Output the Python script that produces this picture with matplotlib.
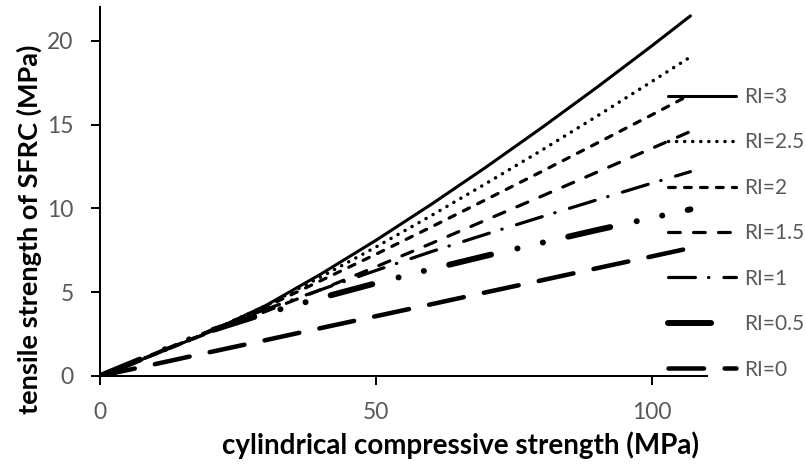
import matplotlib
matplotlib.use("Agg")
import matplotlib.pyplot as plt

plt.rcParams['font.family'] = ['Lato', 'DejaVu Sans']
plt.rcParams['lines.scale_dashes'] = False

# cylindrical compressive strength (MPa)
fc = [0, 10, 20, 30, 40, 50, 60, 70, 80, 90, 100, 107]

# tensile strength of SFRC (MPa) for each reinforcing index
ri_3 = [0, 1.30, 2.65, 4.20, 6.08, 8.10, 10.24, 12.48, 14.81, 17.22, 19.71, 21.5]
ri_25 = [0, 1.32, 2.68, 4.19, 5.91, 7.70, 9.57, 11.50, 13.47, 15.50, 17.58, 19.05]
ri_2 = [0, 1.33, 2.68, 4.12, 5.69, 7.27, 8.89, 10.54, 12.20, 13.89, 15.59, 16.8]
ri_15 = [0, 1.30, 2.62, 3.85, 5.15, 6.52, 7.91, 9.32, 10.73, 12.16, 13.59, 14.6]
ri_1 = [0, 1.36, 2.72, 3.98, 5.15, 6.30, 7.42, 8.47, 9.50, 10.51, 11.51, 12.2]
ri_05 = [0, 1.36, 2.70, 3.74, 4.66, 5.54, 6.38, 7.18, 7.95, 8.71, 9.44, 9.95]
ri_0 = [0, 0.71, 1.43, 2.14, 2.86, 3.57, 4.28, 5.00, 5.71, 6.43, 7.14, 7.64]

labels = ['RI=3', 'RI=2.5', 'RI=2', 'RI=1.5', 'RI=1', 'RI=0.5', 'RI=0']
series = [ri_3, ri_25, ri_2, ri_15, ri_1, ri_05, ri_0]

x_ticks = [0, 50, 100]
y_ticks = [0, 5, 10, 15, 20]

styles = [
    dict(lw=2.2, dashes=None),
    dict(lw=2.5, dashes=(0.1, 5.7)),
    dict(lw=2.3, dashes=(4.9, 6.6)),
    dict(lw=2.3, dashes=(8.5, 9.5)),
    dict(lw=2.3, dashes=(19.4, 9.4, 0.3, 10.8)),
    dict(lw=4.3, dashes=(31, 19.5, 0.1, 18.7, 0.1, 18.7)),
    dict(lw=3.25, dashes=(25.6, 14.8)),
]

fig = plt.figure(figsize=(8.06, 4.66), dpi=100)
ax = fig.add_axes([100/806, 1-376/466, 607/806, 368.5/466])

for y, lab, st in zip(series, labels, styles):
    kw = dict(color='black', label=lab, dash_capstyle='round', solid_capstyle='round')
    if st['dashes'] is not None:
        ax.plot(fc, y, lw=st['lw'], dashes=st['dashes'], **kw)
    else:
        ax.plot(fc, y, lw=st['lw'], ls='-', **kw)

ax.set_xlim(0, 110)
ax.set_ylim(0, 22)
ax.set_xticks(x_ticks)
ax.set_yticks(y_ticks)
for s in ['top', 'right']:
    ax.spines[s].set_visible(False)
for s in ['left', 'bottom']:
    ax.spines[s].set_linewidth(1.45)
    ax.spines[s].set_color('black')
ax.tick_params(axis='both', direction='out', length=6.5, width=1.45, color='black',
               labelsize=16.5, labelcolor='#595959', pad=12.5)

ax.set_xlabel('cylindrical compressive strength (MPa)', fontsize=20, fontweight='bold',
              labelpad=5.5, x=(460-100)/607)
ax.set_ylabel('tensile strength of SFRC (MPa)', fontsize=19.5, fontweight='bold',
              labelpad=4, y=(376-229)/368.5)

leg = ax.legend(loc='upper left', bbox_to_anchor=(668/806, 1-87/466), bbox_transform=fig.transFigure,
                frameon=False, fontsize=15, handlelength=3.27, handletextpad=0.36,
                labelspacing=1.22, borderpad=0, borderaxespad=0)
for t in leg.get_texts():
    t.set_color('#595959')

fig.savefig('out.png', dpi=100)
